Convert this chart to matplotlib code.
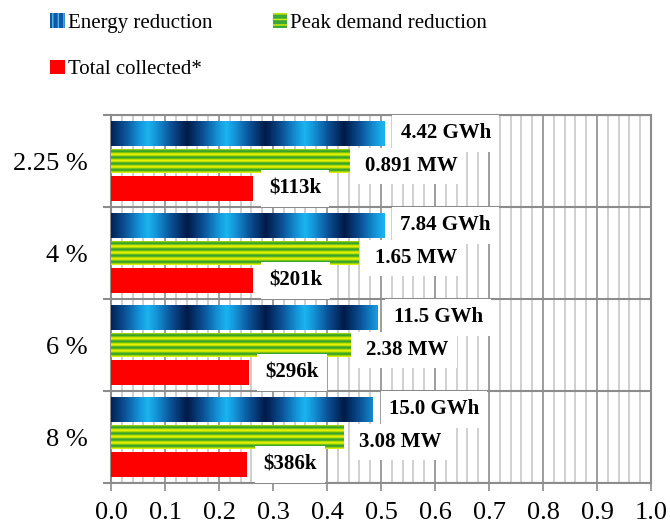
import numpy as np
import matplotlib
matplotlib.use("Agg")
import matplotlib.pyplot as plt
from matplotlib.colors import LinearSegmentedColormap
from matplotlib.patches import Patch

plt.rcParams['font.family'] = ['Liberation Serif', 'DejaVu Serif']

# --- data -------------------------------------------------------------
categories = ['2.25 %', '4 %', '6 %', '8 %']
series_names = ['Energy reduction', 'Peak demand reduction', 'Total collected*']

# scaled bar lengths (fraction of the 0-1 axis)
energy_vals = [0.507, 0.506, 0.494, 0.485]
peak_vals = [0.441, 0.459, 0.443, 0.430]
total_vals = [0.263, 0.263, 0.256, 0.252]

energy_labels = ['4.42 GWh', '7.84 GWh', '11.5 GWh', '15.0 GWh']
peak_labels = ['0.891 MW', '1.65 MW', '2.38 MW', '3.08 MW']
total_labels = ['$113k', '$201k', '$296k', '$386k']

xtick_vals = [0.0, 0.1, 0.2, 0.3, 0.4, 0.5, 0.6, 0.7, 0.8, 0.9, 1.0]
xtick_labels = ['0.0', '0.1', '0.2', '0.3', '0.4', '0.5', '0.6', '0.7', '0.8', '0.9', '1.0']

# --- styling ------------------------------------------------------------
grid_major = '#8c8c8c'
grid_minor = '#c4c4c4'
blue_cmap = LinearSegmentedColormap.from_list(
    'blue_band', [(0.0, '#001a48'), (0.4, '#0b4f94'), (0.8, '#1596da'), (1.0, '#1ab4f0')])
green_cmap = LinearSegmentedColormap.from_list(
    'green_band', ['#2e9e34', '#8ed000', '#eef200'])
red = '#ff0000'

bar_h = 0.27
offsets = [-0.3, 0.0, 0.3]

fig = plt.figure(figsize=(6.7, 5.25), dpi=100)
ax = fig.add_axes([111 / 670, 1 - 483 / 525, 540 / 670, 368 / 525])

y = np.arange(len(categories))

bars_e = ax.barh(y + offsets[0], energy_vals, height=bar_h, color='#0a4a8c', zorder=2)
bars_p = ax.barh(y + offsets[1], peak_vals, height=bar_h, color='#8ed000', zorder=2)
bars_t = ax.barh(y + offsets[2], total_vals, height=bar_h, color=red, zorder=2)

# banded fill for the energy bars: repeating light/dark blue along x
period, phase0 = 0.1455, 0.068
for rect in bars_e:
    x0, w = rect.get_x(), rect.get_width()
    y0, h = rect.get_y(), rect.get_height()
    xs = np.linspace(x0, x0 + w, 600)
    frac = ((xs - phase0) / period) % 1.0
    t = 1 - 2 * np.minimum(frac, 1 - frac)          # triangle wave, 1 = lightest
    img = np.tile(t, (20, 1))
    im = ax.imshow(img, extent=(x0, x0 + w, y0 + h, y0), aspect='auto',
                   cmap=blue_cmap, vmin=0, vmax=1, interpolation='bilinear', zorder=3)
    im.set_clip_path(rect)

# striped fill for the peak-demand bars: horizontal yellow/green bands
for rect in bars_p:
    x0, w = rect.get_x(), rect.get_width()
    y0, h = rect.get_y(), rect.get_height()
    ys = np.linspace(0, 1, 200)
    t = (1 + np.cos(2 * np.pi * 4 * ys)) / 2
    img = np.tile(t[:, None], (1, 20))
    im = ax.imshow(img, extent=(x0, x0 + w, y0 + h, y0), aspect='auto',
                   cmap=green_cmap, vmin=0, vmax=1, interpolation='bilinear', zorder=3)
    im.set_clip_path(rect)

# value labels with white boxes
label_font = dict(fontsize=15, fontweight='bold', color='black')
box = dict(boxstyle='square,pad=0.4', facecolor='white', edgecolor='none')
for bars, labels, dy in [(bars_e, energy_labels, 0.0),
                         (bars_p, peak_labels, -3.5),
                         (bars_t, total_labels, 0.0)]:
    for rect, lab in zip(bars, labels):
        ax.annotate(lab, xy=(rect.get_width(), rect.get_y() + rect.get_height() / 2),
                    xytext=(11.5, dy), textcoords='offset points',
                    ha='left', va='center', bbox=box, zorder=5, **label_font)

# axes, ticks and grid
ax.set_xlim(0, 1.0)
ax.set_ylim(len(categories) - 0.5, -0.5)
ax.set_xticks(xtick_vals)
ax.set_xticklabels(xtick_labels, fontsize=19)
ax.set_xticks(np.arange(0, 1.0001, 0.02), minor=True)
ax.set_yticks(y)
ax.set_yticklabels(categories, fontsize=19)
ax.set_yticks(np.arange(-0.5, len(categories), 1.0), minor=True)

ax.set_axisbelow(True)
ax.xaxis.grid(True, which='minor', color=grid_minor, lw=1.1, zorder=0)
ax.xaxis.grid(True, which='major', color=grid_major, lw=1.2, zorder=0)
ax.yaxis.grid(True, which='minor', color=grid_major, lw=1.5, zorder=0)
ax.yaxis.grid(False, which='major')

ax.tick_params(axis='x', which='major', length=6, width=1.2, color=grid_major, pad=8)
ax.tick_params(axis='x', which='minor', length=0)
ax.tick_params(axis='y', which='major', length=0, pad=17)
ax.tick_params(axis='y', which='minor', length=6, width=1.5, color=grid_major)

for sp in ax.spines.values():
    sp.set_color(grid_major)
    sp.set_linewidth(1.5)
    sp.set_zorder(1)

# legend: two items on the first row, one on the second
h_e = Patch(facecolor='#0d5aa8', edgecolor='#5ab4ec', hatch='|||', lw=0)
h_p = Patch(facecolor='#3aa83a', edgecolor='#d8f000', hatch='---', lw=0)
h_t = Patch(facecolor=red, edgecolor='none')
fig.legend([h_e, h_t, h_p], [series_names[0], series_names[2], series_names[1]],
           ncol=2, loc='upper left', bbox_to_anchor=(50 / 670, 1 - 13 / 525),
           frameon=False, fontsize=15, handlelength=0.7, handleheight=0.7,
           handletextpad=0.15, columnspacing=2.9, labelspacing=1.3,
           borderpad=0, borderaxespad=0)

fig.savefig('out.png', dpi=100)
